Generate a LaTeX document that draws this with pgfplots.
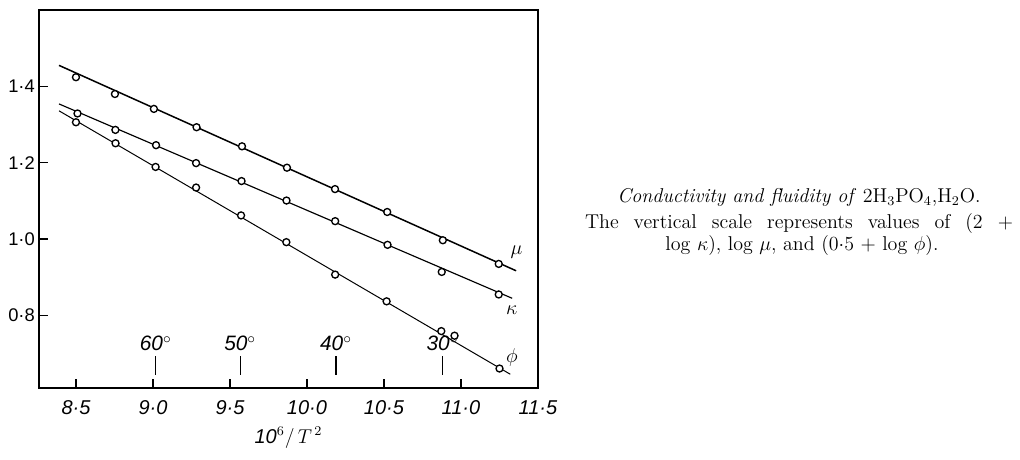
\documentclass[border=0pt]{standalone}
\usepackage{fontspec}
\usepackage{pgfplots}
\pgfplotsset{compat=1.18}
\newfontfamily\hand{Liberation Sans}

\begin{document}
\begin{tikzpicture}
\begin{axis}[
  name=ax, at={(0,0)}, anchor=south west,
  scale only axis, width=299.4pt, height=226.8pt,
  xmin=8.26, xmax=11.5, ymin=0.61, ymax=1.60,
  axis line style={line width=1.1pt}, tick pos=left, tick align=inside,
  major tick length=5.4pt, tick style={line width=0.8pt, black},
  xtick={8.5,9,9.5,10,10.5,11,11.5},
  xticklabels={8·5,9·0,9·5,10·0,10·5,11·0,11·5},
  ytick={0.8,1.0,1.2,1.4},
  yticklabels={0·8,1·0,1·2,1·4},
  xticklabel style={font=\hand\itshape\fontsize{12}{14}\selectfont, yshift=-4pt},
  yticklabel style={font=\hand\fontsize{11}{13}\selectfont, xshift=1pt},
  xlabel={\hand\itshape\fontsize{12}{14}\selectfont 10$^{6}\big/$\,$T^{\,2}$},
  xlabel style={yshift=-4pt, inner sep=0pt},
  clip=false]
% fitted lines
\addplot[black, line width=0.9pt] coordinates {(8.39,1.455) (11.358,0.917)};
\addplot[black, line width=0.7pt] coordinates {(8.39,1.354) (11.332,0.845)};
\addplot[black, line width=0.6pt] coordinates {(8.39,1.336) (11.32,0.646)};
% mu
\addplot[only marks, mark=*, mark size=2.1pt, mark options={fill=white, draw=black, line width=0.8pt}] coordinates {
(8.50,1.424) (8.753,1.380) (9.006,1.341) (9.283,1.293) (9.578,1.243)
(9.870,1.187) (10.182,1.131) (10.521,1.071) (10.882,0.997) (11.245,0.935)};
% kappa
\addplot[only marks, mark=*, mark size=2.1pt, mark options={fill=white, draw=black, line width=0.8pt}] coordinates {
(8.51,1.329) (8.756,1.286) (9.02,1.246) (9.28,1.199) (9.575,1.152)
(9.867,1.101) (10.183,1.047) (10.523,0.985) (10.875,0.914) (11.245,0.855)};
% phi
\addplot[only marks, mark=*, mark size=2.1pt, mark options={fill=white, draw=black, line width=0.8pt}] coordinates {
(8.50,1.306) (8.757,1.251) (9.017,1.189) (9.28,1.135) (9.572,1.062)
(9.866,0.992) (10.183,0.907) (10.517,0.837) (10.872,0.759) (10.958,0.747) (11.25,0.661)};
% temperature marks
\addplot[black, line width=0.7pt] coordinates {(9.018,0.645) (9.018,0.695)};
\addplot[black, line width=0.7pt] coordinates {(9.566,0.645) (9.566,0.695)};
\addplot[black, line width=0.7pt] coordinates {(10.188,0.645) (10.188,0.695)};
\addplot[black, line width=0.7pt] coordinates {(10.88,0.645) (10.88,0.695)};
\foreach \xx/\tt in {9.018/60,9.566/50,10.188/40,10.88/30}{
  \edef\temp{\noexpand\node[anchor=south, inner sep=0pt, font=\noexpand\hand\noexpand\itshape\noexpand\fontsize{12.5}{14}\noexpand\selectfont] at (axis cs:\xx,0.706) {\tt$^{\circ}$};}
  \temp
}
\node[font=\fontsize{13}{15}\selectfont] at (axis cs:11.36,0.965) {$\mu$};
\node[font=\fontsize{13}{15}\selectfont] at (axis cs:11.33,0.815) {$\kappa$};
\node[font=\fontsize{13}{15}\selectfont] at (axis cs:11.33,0.69) {$\phi$};
\end{axis}
% caption
\node[font=\fontsize{12}{14}\selectfont, inner sep=0pt] at (456pt,114pt)
  {\textit{Conductivity and fluidity of} 2H$_3$PO$_4$,H$_2$O.};
\node[font=\fontsize{12}{14}\selectfont, inner sep=0pt] at (456pt,98.4pt)
  {\makebox[256.8pt][s]{The vertical scale represents values of (2 +}};
\node[font=\fontsize{12}{14}\selectfont, inner sep=0pt] at (457.8pt,85.2pt)
  {log $\kappa$), log $\mu$, and ($0{\cdot}5$ + log $\phi$).};
\pgfresetboundingbox
\path (-23.4pt,-42.6pt) rectangle (588.6pt,232.8pt);
\end{tikzpicture}
\end{document}
